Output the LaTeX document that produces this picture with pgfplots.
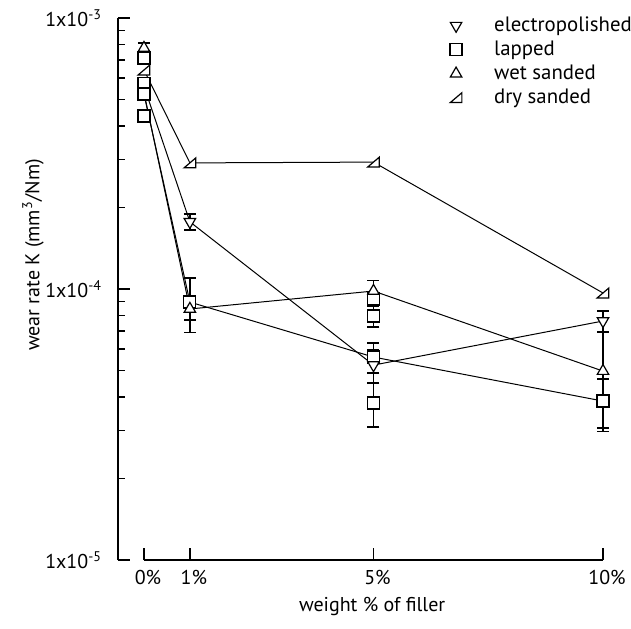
\documentclass[border=0pt]{standalone}
\usepackage{fontspec}
\setmainfont{PT Sans}
\usepackage{pgfplots}
\usepackage{pgfplotstable}
\pgfplotsset{compat=1.18}
\pgfdeclareplotmark{rtri}{%
 \pgfpathmoveto{\pgfqpoint{-\pgfplotmarksize}{-0.85\pgfplotmarksize}}%
 \pgfpathlineto{\pgfqpoint{\pgfplotmarksize}{-0.85\pgfplotmarksize}}%
 \pgfpathlineto{\pgfqpoint{\pgfplotmarksize}{0.85\pgfplotmarksize}}%
 \pgfpathclose
 \pgfusepathqfillstroke}

% lines (mean values)
\pgfplotstableread{
x y
0 5.6e-4
1 1.77e-4
5 5.24e-5
10 7.62e-5
}\elline
\pgfplotstableread{
x y
0 5.24e-4
1 8.95e-5
5 5.61e-5
10 3.86e-5
}\lapline
\pgfplotstableread{
x y
0 5.3e-4
1 8.44e-5
5 9.83e-5
10 4.98e-5
}\wetline
\pgfplotstableread{
x y
0 6.43e-4
1 2.92e-4
5 2.94e-4
10 9.67e-5
}\dryline
% markers with error bars
\pgfplotstableread{
x y e
1 1.77e-4 1.2e-5
5 5.24e-5 7.4e-6
10 7.62e-5 6.8e-6
}\elpts
\pgfplotstableread{
x y e
0 7.12e-4 0
0 5.75e-4 0
0 5.24e-4 0
0 4.35e-4 0
1 8.95e-5 2.05e-5
5 9.18e-5 0
5 7.95e-5 7.1e-6
5 5.61e-5 7.1e-6
5 3.80e-5 7.0e-6
10 3.86e-5 7.9e-6
}\lappts
\pgfplotstableread{
x y e
0 7.75e-4 3.4e-5
1 8.44e-5 7.6e-6
5 9.83e-5 9.0e-6
10 4.98e-5 2.0e-5
}\wetpts
\pgfplotstableread{
x y
0 6.43e-4
1 2.92e-4
5 2.94e-4
10 9.67e-5
}\drypts

\begin{document}
\begin{tikzpicture}
\begin{axis}[
  name=ax,
  scale only axis, width=242.5pt, height=271pt,
  xmin=-0.566, xmax=10,
  ymode=log, ymin=1e-5, ymax=1e-3,
  axis line style={draw=none},
  clip=false,
  xtick={0,1,5,10}, xticklabels={0\%,1\%,5\%,10\%},
  ytick={1e-5,1e-4,1e-3},
  yticklabels={1x10\textsuperscript{-5},1x10\textsuperscript{-4},1x10\textsuperscript{-3}},
  minor ytick={2e-5,3e-5,4e-5,5e-5,6e-5,7e-5,8e-5,9e-5,2e-4,3e-4,4e-4,5e-4,6e-4,7e-4,8e-4,9e-4},
  xtick pos=bottom, ytick pos=left, tick align=inside,
  major tick length=6pt, minor tick length=3.5pt,
  every tick/.style={black, line width=0.7pt},
  tick label style={font=\fontsize{10}{12}\selectfont},
  yticklabel style={anchor=east, xshift=-4.5pt},
  xticklabel style={yshift=-1.5pt, xshift=2pt},
  xlabel={weight \% of filler},
  ylabel={wear rate K (mm\textsuperscript{3}/Nm)},
  label style={font=\fontsize{10}{12}\selectfont},
  xlabel style={at={(rel axis cs:0.524,-0.085)}, anchor=center},
  ylabel style={at={(rel axis cs:-0.175,0.563)}, anchor=center},
  legend style={at={(axis cs:6.35,1.085e-3)}, anchor=north west, draw=none, fill=none,
    font=\fontsize{10.4}{12}\selectfont, row sep=-0.8pt},
  legend cell align=left,
  legend image code/.code={%
    \path[draw=none] (0cm,0cm) -- (0.85cm,0cm);
    \path[draw=none] plot[only marks] coordinates {(0.25cm,0cm)};},
  every axis plot/.append style={line width=0.5pt, black},
]
\addlegendimage{only marks, mark=triangle*, mark size=3.3pt, mark options={rotate=180, fill=white, draw=black, line width=0.6pt}}
\addlegendentry{electropolished}
\addlegendimage{only marks, mark=square*, mark size=3pt, mark options={fill=white, draw=black, line width=0.6pt}}
\addlegendentry{lapped}
\addlegendimage{only marks, mark=triangle*, mark size=3.3pt, mark options={fill=white, draw=black, line width=0.6pt}}
\addlegendentry{wet sanded}
\addlegendimage{only marks, mark=rtri, mark size=2.9pt, mark options={fill=white, draw=black, line width=0.6pt}}
\addlegendentry{dry sanded}

\addplot[no marks, forget plot] table[x=x,y=y]{\elline};
\addplot[no marks, forget plot] table[x=x,y=y]{\lapline};
\addplot[no marks, forget plot] table[x=x,y=y]{\wetline};
\addplot[no marks, forget plot] table[x=x,y=y]{\dryline};

\addplot[only marks, forget plot, mark=square*, mark size=3pt, mark options={fill=white, draw=black, line width=0.6pt},
  error bars/.cd, y dir=both, y explicit, error bar style={line width=0.7pt},
  error mark options={rotate=90, mark size=3pt, line width=0.7pt}]
  table[x=x,y=y,y error=e]{\lappts};
\addplot[only marks, forget plot, mark=triangle*, mark size=3.3pt, mark options={rotate=180, fill=white, draw=black, line width=0.6pt},
  error bars/.cd, y dir=both, y explicit, error bar style={line width=0.7pt},
  error mark options={rotate=90, mark size=3pt, line width=0.7pt}]
  table[x=x,y=y,y error=e]{\elpts};
\addplot[only marks, forget plot, mark=triangle*, mark size=3.3pt, mark options={fill=white, draw=black, line width=0.6pt},
  error bars/.cd, y dir=both, y explicit, error bar style={line width=0.7pt},
  error mark options={rotate=90, mark size=3pt, line width=0.7pt}]
  table[x=x,y=y,y error=e]{\wetpts};
\addplot[only marks, forget plot, mark=rtri, mark size=2.9pt, mark options={fill=white, draw=black, line width=0.6pt}]
  table[x=x,y=y]{\drypts};

\draw[line width=0.75pt] (rel axis cs:0,0) -- (rel axis cs:0,1);
\draw[line width=0.75pt] (axis cs:0,1e-5) -- (axis cs:10,1e-5);
\end{axis}
\pgfresetboundingbox
\path[use as bounding box] ([xshift=-59pt,yshift=-34pt]ax.south west) rectangle ([xshift=14pt,yshift=9pt]ax.north east);
\end{tikzpicture}
\end{document}
